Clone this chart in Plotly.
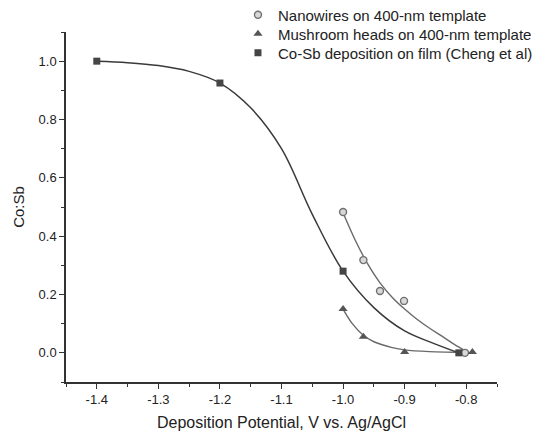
import plotly.graph_objects as go

# Measured data points
nano_x = [-1.0, -0.967, -0.94, -0.901, -0.802]
nano_y = [0.483, 0.318, 0.212, 0.178, 0.0]

mush_x = [-1.0, -0.967, -0.90, -0.79]
mush_y = [0.15, 0.055, 0.003, 0.003]

cheng_x = [-1.4, -1.2, -1.0, -0.812]
cheng_y = [1.0, 0.925, 0.28, 0.0]

# Fitted curves
cheng_fit_x = [-1.4, -1.35, -1.3, -1.25, -1.2, -1.15, -1.1, -1.05, -1.0, -0.95, -0.9, -0.85, -0.812]
cheng_fit_y = [1.0, 0.995, 0.985, 0.965, 0.925, 0.84, 0.70, 0.475, 0.28, 0.155, 0.075, 0.03, 0.0]

nano_fit_x = [-1.0, -0.98, -0.96, -0.94, -0.92, -0.90, -0.88, -0.86, -0.84, -0.82, -0.80]
nano_fit_y = [0.48, 0.385, 0.305, 0.24, 0.19, 0.15, 0.115, 0.085, 0.058, 0.03, 0.005]

mush_fit_x = [-1.0, -0.985, -0.967, -0.95, -0.92, -0.90, -0.86, -0.82, -0.79]
mush_fit_y = [0.15, 0.10, 0.06, 0.038, 0.018, 0.01, 0.004, 0.002, 0.0]

names = ["Nanowires on 400-nm template",
         "Mushroom heads on 400-nm template",
         "Co-Sb deposition on film (Cheng et al)"]

fig = go.Figure()

# fit lines
fig.add_trace(go.Scatter(x=nano_fit_x, y=nano_fit_y, mode="lines", line=dict(color="#6a6a6a", width=1.4, shape="spline"),
                         showlegend=False, hoverinfo="skip"))
fig.add_trace(go.Scatter(x=mush_fit_x, y=mush_fit_y, mode="lines", line=dict(color="#6a6a6a", width=1.4, shape="spline"),
                         showlegend=False, hoverinfo="skip"))
fig.add_trace(go.Scatter(x=cheng_fit_x, y=cheng_fit_y, mode="lines", line=dict(color="#3a3a3a", width=1.5, shape="spline"),
                         showlegend=False, hoverinfo="skip"))

# markers
fig.add_trace(go.Scatter(x=nano_x, y=nano_y, mode="markers", name=names[0], legend="legend",
                         marker=dict(symbol="circle", size=7, color="#d8d8d8", line=dict(color="#707070", width=1.4))))
fig.add_trace(go.Scatter(x=mush_x, y=mush_y, mode="markers", name=names[1], legend="legend2",
                         marker=dict(symbol="triangle-up", size=8, color="#555555", line=dict(width=0))))
fig.add_trace(go.Scatter(x=cheng_x, y=cheng_y, mode="markers", name=names[2], legend="legend3",
                         marker=dict(symbol="square", size=7, color="#454545", line=dict(width=0))))

axis_common = dict(showline=True, linecolor="#333333", linewidth=1.5, ticks="outside", tickcolor="#333333",
                   ticklen=5, tickwidth=1.3, showgrid=False, zeroline=False, mirror=False, automargin=False)

leg_common = dict(x=0.399, xanchor="left", yanchor="middle", bgcolor="rgba(0,0,0,0)",
                  font=dict(size=15, color="#222222"), itemwidth=30)

fig.update_layout(
    width=549, height=437,
    margin=dict(l=66, r=52, t=32, b=55, autoexpand=False),
    paper_bgcolor="white", plot_bgcolor="white",
    font=dict(family="Liberation Sans, Arial, sans-serif", color="#222222", size=13),
    xaxis=dict(range=[-1.45, -0.75], tickvals=[-1.4, -1.3, -1.2, -1.1, -1.0, -0.9, -0.8],
               ticktext=["-1.4", "-1.3", "-1.2", "-1.1", "-1.0", "-0.9", "-0.8"],
               minor=dict(dtick=0.05, tick0=-1.45, ticks="outside", ticklen=3, tickcolor="#333333", tickwidth=1.2),
               title=dict(text="Deposition Potential, V vs. Ag/AgCl", font=dict(size=16), standoff=10),
               tickfont=dict(size=13), **axis_common),
    yaxis=dict(range=[-0.1, 1.1], tickvals=[0.0, 0.2, 0.4, 0.6, 0.8, 1.0],
               ticktext=["0.0", "0.2", "0.4", "0.6", "0.8", "1.0"],
               minor=dict(dtick=0.1, tick0=-0.1, ticks="outside", ticklen=3, tickcolor="#333333", tickwidth=1.2),
               title=dict(text="Co:Sb", font=dict(size=15), standoff=10),
               tickfont=dict(size=13), **axis_common),
    legend=dict(y=1.0486, **leg_common),
    legend2=dict(y=0.9943, **leg_common),
    legend3=dict(y=0.940, **leg_common),
    showlegend=True,
)

fig.write_html("out.html", config={"displayModeBar": False},
               post_script="document.body.style.margin='0';")
